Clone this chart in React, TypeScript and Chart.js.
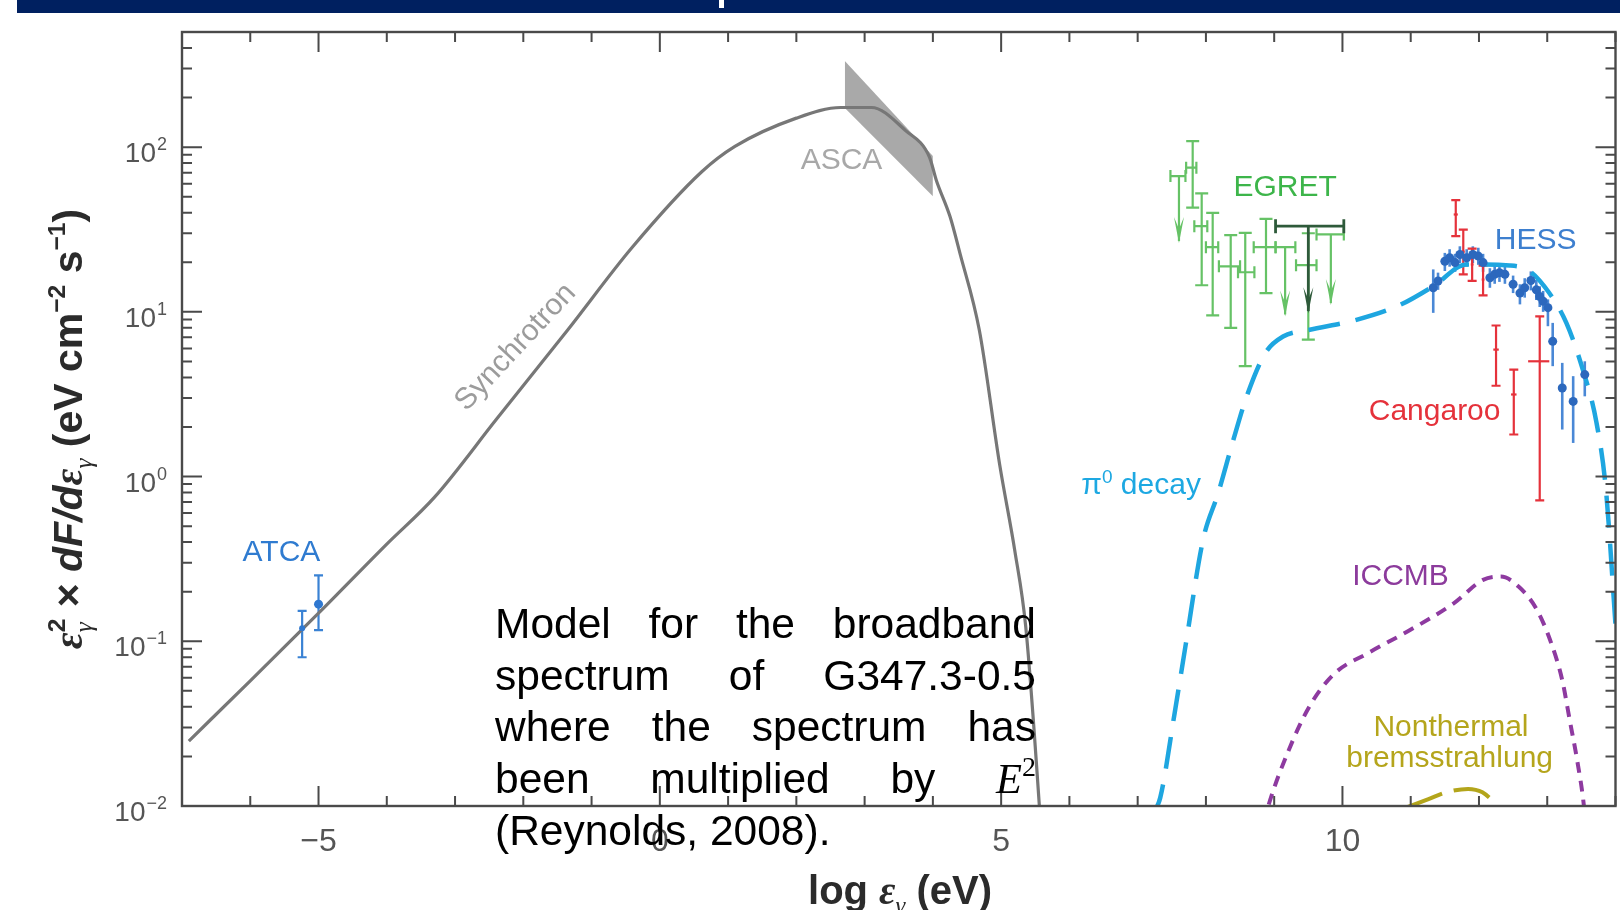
import React, { useEffect, useRef } from 'react';
import { Chart, registerables } from 'chart.js';

Chart.register(...registerables);

const SANS = '"Liberation Sans", Arial, Helvetica, sans-serif';
const SERIF = '"Liberation Serif", "DejaVu Serif", "Times New Roman", serif';

// ---- axes ----
const X_MIN = -7;
const X_MAX = 14;
const Y_MIN = 0.01;
const Y_MAX = 500;
const xTickValues = [-5, 0, 5, 10];
const xTickLabels = ['−5', '0', '5', '10'];
const yTickValues = [0.01, 0.1, 1, 10, 100];
const yTickExponents = ['−2', '−1', '0', '1', '2'];

// ---- model curves: log photon energy (eV) vs E^2 dF/dE (eV cm^-2 s^-1) ----
const synchLogE = [-6.9, -6.0, -5.0, -4.0, -3.3, -2.4, -1.35, -0.41, 0.61, 1.1, 2.0, 2.65, 3.1, 3.6, 3.95, 4.05, 4.25, 4.4, 4.68, 4.98, 5.2, 5.36, 5.56, 5.62];
const synchFlux = [0.0248, 0.0575, 0.148, 0.389, 0.75, 2.21, 7.76, 24.5, 70.6, 101, 150, 174, 174, 126, 87, 63, 38, 22.4, 7.76, 1.17, 0.355, 0.123, 0.01, 0.004];

const pionLogE = [7.22, 7.33, 7.54, 7.70, 7.96, 8.18, 8.40, 8.60, 8.87, 9.13, 9.50, 10.19, 10.84, 11.33, 11.82, 12.45, 12.74, 13.03, 13.28, 13.52, 13.72, 13.86, 14.0, 14.1];
const pionFlux = [0.0089, 0.0112, 0.0363, 0.0933, 0.417, 0.794, 1.66, 3.09, 5.62, 7.08, 7.76, 8.91, 11.0, 14.3, 19.4, 19.1, 17.7, 13.0, 8.57, 4.47, 2.14, 0.832, 0.126, 0.0316];

const iccmbLogE = [8.85, 8.92, 9.19, 9.51, 9.88, 10.36, 10.99, 11.63, 12.06, 12.32, 12.58, 12.85, 13.06, 13.22, 13.33, 13.44, 13.54, 13.58];
const iccmbFlux = [0.0079, 0.0102, 0.0207, 0.0398, 0.0635, 0.0841, 0.117, 0.170, 0.236, 0.247, 0.215, 0.155, 0.097, 0.058, 0.0331, 0.0188, 0.0098, 0.0063];

const bremsLogE = [10.94, 11.26, 11.52, 11.84, 12.05, 12.26];
const bremsFlux = [0.0098, 0.011, 0.0121, 0.0127, 0.0121, 0.0102];

// ASCA X-ray bow-tie
const ascaLogE = [2.71, 4.0];
const ascaUpper = [333, 88.2];
const ascaLower = [173, 50.4];

// ---- measurements ----
const atcaLogE = [-5.24, -5.0];
const atcaFlux = [0.12, 0.168];
const atcaLo = [0.08, 0.117];
const atcaHi = [0.153, 0.251];

const egretLogE = [7.806, 7.938, 8.099, 8.363, 8.576, 8.88, 9.5];
const egretFlux = [75.0, 33.1, 24.7, 18.9, 17.4, 24.7, 19.2];
const egretLo = [42.9, 14.5, 9.51, 8.0, 4.68, 13.0, 6.79];
const egretHi = [108.7, 52.4, 39.9, 29.2, 30.2, 36.7, 30.0];
const egretELo = [7.71, 7.83, 8.0, 8.19, 8.47, 8.7, 9.32];
const egretEHi = [7.86, 8.02, 8.18, 8.5, 8.71, 9.02, 9.62];

const egretUlLogE = [7.605, 9.16, 9.83];
const egretUlFlux = [66.7, 24.7, 29.5];
const egretUlTip = [26.9, 9.65, 11.3];
const egretUlELo = [7.48, 9.02, 9.62];
const egretUlEHi = [7.7, 9.31, 10.02];

const egretWideUlLogE = [9.5];
const egretWideUlFlux = [33.1];
const egretWideUlTip = [10.1];
const egretWideUlELo = [9.02];
const egretWideUlEHi = [10.02];

const hessLogE = [11.33, 11.4, 11.5, 11.57, 11.65, 11.72, 11.82, 11.91, 11.99, 12.06, 12.16, 12.23, 12.3, 12.38, 12.5, 12.6, 12.67, 12.76, 12.84, 12.89, 12.94, 13.01, 13.08, 13.22, 13.38, 13.55];
const hessFlux = [14.0, 15.4, 20.3, 21.3, 19.9, 22.3, 21.3, 22.3, 21.8, 19.9, 16.1, 16.9, 17.3, 16.9, 14.7, 13.0, 14.0, 15.5, 13.6, 12.4, 11.6, 10.6, 6.62, 3.45, 2.86, 4.16];
const hessLo = [9.86, 13.6, 17.7, 18.8, 17.5, 19.8, 18.8, 19.8, 19.3, 17.5, 14.0, 14.8, 15.2, 14.8, 13.0, 11.1, 12.2, 13.5, 11.8, 10.7, 10.0, 8.18, 4.68, 1.93, 1.6, 3.07];
const hessHi = [18.1, 17.3, 22.8, 24.0, 22.5, 25.0, 24.0, 25.0, 24.5, 22.5, 18.4, 19.2, 19.6, 19.2, 16.6, 14.7, 16.0, 17.6, 15.6, 14.3, 13.4, 11.9, 8.57, 4.9, 4.07, 5.01];

const cangLogE = [11.66, 11.77, 11.9, 12.06, 12.25, 12.51, 12.89];
const cangFlux = [39.0, 23.2, 19.4, 15.7, 5.9, 3.15, 5.01];
const cangLo = [28.8, 16.9, 15.4, 12.6, 3.56, 1.8, 0.716];
const cangHi = [47.7, 31.6, 24.2, 19.1, 8.26, 4.46, 9.4];
const cangELo = [11.63, 11.75, 11.88, 12.04, 12.21, 12.47, 12.72];
const cangEHi = [11.69, 11.79, 11.92, 12.08, 12.29, 12.55, 13.03];

// ---- labels placed in data coordinates ----
const annotations = [
  { text: 'ATCA', x: -5.543, y: 0.344, color: '#2f7bd0' },
  { text: 'ASCA', x: 2.661, y: 82.2, color: '#a8a8a8' },
  { text: 'EGRET', x: 9.16, y: 57.0, color: '#3db54a' },
  { text: 'HESS', x: 12.83, y: 27.0, color: '#3d7fcf' },
  { text: 'Cangaroo', x: 11.35, y: 2.49, color: '#e5323b' },
  { text: 'ICCMB', x: 10.85, y: 0.248, color: '#8c3b9c' },
  { text: 'Nonthermal', x: 11.59, y: 0.03, color: '#b5a51c' },
  { text: 'bremsstrahlung', x: 11.57, y: 0.0193, color: '#b5a51c' },
];
const pionLabel = { x: 7.05, y: 0.912, color: '#1da8e2' };
const synchLabel = { text: 'Synchrotron', x: -2.112, y: 6.1, color: '#9c9c9c', angle: -47 };

const captionLines = [
  'Model for the broadband',
  'spectrum of G347.3-0.5',
  'where the spectrum has',
  'been multiplied by',
  '(Reynolds, 2008).',
];

const zip = (xs: number[], ys: number[]) => xs.map((x, i) => ({ x, y: ys[i] }));

type Seg = { t: string; font: string; dy?: number; stack?: boolean };

function richWidth(ctx: CanvasRenderingContext2D, segs: Seg[]) {
  let w = 0;
  let pending = 0;
  for (const s of segs) {
    ctx.font = s.font;
    const sw = ctx.measureText(s.t).width;
    if (s.stack) {
      pending = Math.max(pending, sw);
      continue;
    }
    w += Math.max(pending, sw);
    pending = 0;
  }
  return w + pending;
}

function drawRich(ctx: CanvasRenderingContext2D, segs: Seg[], x: number, y: number) {
  let cx = x;
  let pending = 0;
  for (const s of segs) {
    ctx.font = s.font;
    const sw = ctx.measureText(s.t).width;
    ctx.fillText(s.t, cx, y + (s.dy || 0));
    if (s.stack) {
      pending = Math.max(pending, sw);
      continue;
    }
    cx += Math.max(pending, sw);
    pending = 0;
  }
}

const errorBarPlugin = {
  id: 'errorBars',
  beforeDatasetsDraw(chart: any) {
    const { ctx } = chart;
    const xs = chart.scales.x;
    const ys = chart.scales.y;
    chart.data.datasets.forEach((ds: any) => {
      const e = ds.err;
      if (!e) return;
      ctx.save();
      ctx.strokeStyle = e.color;
      ctx.fillStyle = e.color;
      ctx.lineWidth = e.width;
      for (const p of ds.data) {
        const px = xs.getPixelForValue(p.x);
        const py = ys.getPixelForValue(p.y);
        if (p.lo !== undefined) {
          const t = ys.getPixelForValue(p.hi);
          const b = ys.getPixelForValue(p.lo);
          ctx.beginPath();
          ctx.moveTo(px, t);
          ctx.lineTo(px, b);
          if (e.cap) {
            ctx.moveTo(px - e.cap / 2, t);
            ctx.lineTo(px + e.cap / 2, t);
            ctx.moveTo(px - e.cap / 2, b);
            ctx.lineTo(px + e.cap / 2, b);
          }
          ctx.stroke();
        }
        if (p.xlo !== undefined) {
          const l = xs.getPixelForValue(p.xlo);
          const r = xs.getPixelForValue(p.xhi);
          ctx.beginPath();
          ctx.moveTo(l, py);
          ctx.lineTo(r, py);
          if (e.xcap) {
            ctx.moveTo(l, py - e.xcap / 2);
            ctx.lineTo(l, py + e.xcap / 2);
            ctx.moveTo(r, py - e.xcap / 2);
            ctx.lineTo(r, py + e.xcap / 2);
          }
          ctx.stroke();
        }
        if (p.tip !== undefined) {
          const tp = ys.getPixelForValue(p.tip);
          ctx.beginPath();
          ctx.moveTo(px, py);
          ctx.lineTo(px, tp);
          ctx.stroke();
          ctx.beginPath();
          ctx.moveTo(px, tp + 2);
          ctx.lineTo(px - e.head, tp - 24);
          ctx.lineTo(px, tp - 12);
          ctx.lineTo(px + e.head, tp - 24);
          ctx.closePath();
          ctx.fill();
        }
      }
      ctx.restore();
    });
  },
};

const framePlugin = {
  id: 'frame',
  afterDraw(chart: any) {
    const { ctx, chartArea: a } = chart;
    const xs = chart.scales.x;
    const ys = chart.scales.y;
    ctx.save();

    // frame
    ctx.strokeStyle = '#4a4a4a';
    ctx.lineWidth = 2.4;
    ctx.strokeRect(a.left, a.top, a.right - a.left, a.bottom - a.top);

    // x ticks, inward on top and bottom
    ctx.lineWidth = 2;
    ctx.beginPath();
    for (let v = Math.ceil(X_MIN); v <= X_MAX; v++) {
      const px = xs.getPixelForValue(v);
      const len = v % 5 === 0 ? 20 : 10;
      ctx.moveTo(px, a.bottom);
      ctx.lineTo(px, a.bottom - len);
      ctx.moveTo(px, a.top);
      ctx.lineTo(px, a.top + len);
    }
    // y ticks, inward on left and right
    for (let d = -2; d <= 2; d++) {
      for (let m = 1; m <= 9; m++) {
        const v = m * Math.pow(10, d);
        if (v > Y_MAX) break;
        const py = ys.getPixelForValue(v);
        const len = m === 1 ? 20 : 10;
        ctx.moveTo(a.left, py);
        ctx.lineTo(a.left + len, py);
        ctx.moveTo(a.right, py);
        ctx.lineTo(a.right - len, py);
      }
    }
    ctx.stroke();

    // tick labels
    ctx.fillStyle = '#555';
    ctx.textAlign = 'center';
    ctx.textBaseline = 'alphabetic';
    ctx.font = `32px ${SANS}`;
    xTickValues.forEach((v, i) => {
      ctx.fillText(xTickLabels[i], xs.getPixelForValue(v), a.bottom + 45);
    });
    ctx.textAlign = 'left';
    yTickValues.forEach((v, i) => {
      const py = ys.getPixelForValue(v);
      ctx.font = `18px ${SANS}`;
      const sw = ctx.measureText(yTickExponents[i]).width;
      ctx.font = `28px ${SANS}`;
      const bw = ctx.measureText('10').width;
      const right = a.left - 15;
      ctx.fillText('10', right - sw - bw - 1, py + 15);
      ctx.font = `18px ${SANS}`;
      ctx.fillText(yTickExponents[i], right - sw, py + 3);
    });

    // axis titles
    ctx.fillStyle = '#2b2b2b';
    const F = 41;
    const ySegs: Seg[] = [
      { t: 'ε', font: `italic bold ${F}px ${SERIF}` },
      { t: '2', font: `bold ${F * 0.6}px ${SANS}`, dy: -F * 0.42, stack: true },
      { t: 'γ', font: `italic ${F * 0.62}px ${SERIF}`, dy: F * 0.25 },
      { t: ' × ', font: `bold ${F}px ${SANS}` },
      { t: 'dF/d', font: `italic bold ${F}px ${SANS}` },
      { t: 'ε', font: `italic bold ${F}px ${SERIF}` },
      { t: 'γ', font: `italic ${F * 0.62}px ${SERIF}`, dy: F * 0.25 },
      { t: ' (eV cm', font: `bold ${F}px ${SANS}` },
      { t: '−2', font: `bold ${F * 0.6}px ${SANS}`, dy: -F * 0.42 },
      { t: ' s', font: `bold ${F}px ${SANS}` },
      { t: '−1', font: `bold ${F * 0.6}px ${SANS}`, dy: -F * 0.42 },
      { t: ')', font: `bold ${F}px ${SANS}` },
    ];
    const yw = richWidth(ctx, ySegs);
    ctx.save();
    ctx.translate(67, 429);
    ctx.rotate(-Math.PI / 2);
    drawRich(ctx, ySegs, -yw / 2, F * 0.36);
    ctx.restore();

    const G = 40;
    const xSegs: Seg[] = [
      { t: 'log ', font: `bold ${G}px ${SANS}` },
      { t: 'ε', font: `italic bold ${G}px ${SERIF}` },
      { t: 'γ', font: `italic ${G * 0.62}px ${SERIF}`, dy: G * 0.25 },
      { t: ' (eV)', font: `bold ${G}px ${SANS}` },
    ];
    const xw = richWidth(ctx, xSegs);
    drawRich(ctx, xSegs, 900 - xw / 2, 904);

    // curve and instrument labels
    ctx.textAlign = 'center';
    ctx.textBaseline = 'middle';
    ctx.font = `30px ${SANS}`;
    annotations.forEach((lb) => {
      ctx.fillStyle = lb.color;
      ctx.fillText(lb.text, xs.getPixelForValue(lb.x), ys.getPixelForValue(lb.y));
    });

    ctx.save();
    ctx.fillStyle = synchLabel.color;
    ctx.font = `30px ${SANS}`;
    ctx.translate(xs.getPixelForValue(synchLabel.x), ys.getPixelForValue(synchLabel.y));
    ctx.rotate((synchLabel.angle * Math.PI) / 180);
    ctx.fillText(synchLabel.text, 0, 0);
    ctx.restore();

    ctx.fillStyle = pionLabel.color;
    ctx.textAlign = 'left';
    ctx.textBaseline = 'alphabetic';
    const pSegs: Seg[] = [
      { t: 'π', font: `30px ${SANS}` },
      { t: '0', font: `19px ${SANS}`, dy: -11 },
      { t: ' decay', font: `30px ${SANS}` },
    ];
    const pw = richWidth(ctx, pSegs);
    drawRich(ctx, pSegs, xs.getPixelForValue(pionLabel.x) - pw / 2, ys.getPixelForValue(pionLabel.y) + 11);

    ctx.restore();
  },
};

export default function App() {
  const canvasRef = useRef<HTMLCanvasElement | null>(null);

  useEffect(() => {
    const canvas = canvasRef.current;
    if (!canvas) return;

    const line = (data: any[], color: string, width: number, dash: number[], order: number) => ({
      data,
      showLine: true,
      borderColor: color,
      borderWidth: width,
      borderDash: dash,
      pointRadius: 0,
      cubicInterpolationMode: 'monotone',
      fill: false,
      order,
    });

    const datasets: any[] = [
      {
        data: atcaLogE.map((x, i) => ({ x, y: atcaFlux[i], lo: atcaLo[i], hi: atcaHi[i] })),
        pointRadius: [3, 4.5],
        pointBackgroundColor: '#2f78d0',
        pointBorderWidth: 0,
        err: { color: '#3a82d4', width: 2.2, cap: 9 },
        order: 0,
      },
      {
        data: hessLogE.map((x, i) => ({ x, y: hessFlux[i], lo: hessLo[i], hi: hessHi[i] })),
        pointRadius: 4.5,
        pointBackgroundColor: '#2c68bd',
        pointBorderWidth: 0,
        err: { color: '#4a88d6', width: 2.6, cap: 0 },
        order: 1,
      },
      {
        data: cangLogE.map((x, i) => ({ x, y: cangFlux[i], lo: cangLo[i], hi: cangHi[i], xlo: cangELo[i], xhi: cangEHi[i] })),
        pointRadius: 0,
        err: { color: '#e5323b', width: 2.2, cap: 9, xcap: 0 },
        order: 2,
      },
      {
        data: egretLogE.map((x, i) => ({ x, y: egretFlux[i], lo: egretLo[i], hi: egretHi[i], xlo: egretELo[i], xhi: egretEHi[i] })),
        pointRadius: 0,
        err: { color: '#66c266', width: 2.2, cap: 13, xcap: 12 },
        order: 3,
      },
      {
        data: egretUlLogE.map((x, i) => ({ x, y: egretUlFlux[i], tip: egretUlTip[i], xlo: egretUlELo[i], xhi: egretUlEHi[i] })),
        pointRadius: 0,
        err: { color: '#66c266', width: 2.2, xcap: 12, head: 5 },
        order: 4,
      },
      {
        data: egretWideUlLogE.map((x, i) => ({ x, y: egretWideUlFlux[i], tip: egretWideUlTip[i], xlo: egretWideUlELo[i], xhi: egretWideUlEHi[i] })),
        pointRadius: 0,
        err: { color: '#2e5a3a', width: 2.8, xcap: 14, head: 5 },
        order: 5,
      },
      line(zip(synchLogE, synchFlux), '#777777', 3.2, [], 6),
      line(zip(pionLogE, pionFlux), '#1ea6e0', 4.5, [32, 16], 7),
      line(zip(iccmbLogE, iccmbFlux), '#8e3aa0', 4, [11, 8], 8),
      line(zip(bremsLogE, bremsFlux), '#b3a51b', 4, [38, 12], 9),
      {
        data: zip(ascaLogE, ascaUpper),
        showLine: true,
        borderWidth: 0,
        borderColor: 'rgba(0,0,0,0)',
        backgroundColor: '#a9a9a9',
        pointRadius: 0,
        fill: '+1',
        order: 10,
      },
      {
        data: zip(ascaLogE, ascaLower),
        showLine: true,
        borderWidth: 0,
        borderColor: 'rgba(0,0,0,0)',
        pointRadius: 0,
        fill: false,
        order: 11,
      },
    ];

    const chart = new Chart(canvas, {
      type: 'scatter',
      data: { datasets },
      options: {
        animation: false,
        responsive: false,
        maintainAspectRatio: false,
        layout: { padding: { left: 182, top: 32, right: 0, bottom: 104 } },
        scales: {
          x: { type: 'linear', min: X_MIN, max: X_MAX, display: false },
          y: { type: 'logarithmic', min: Y_MIN, max: Y_MAX, display: false },
        },
        plugins: {
          legend: { display: false },
          tooltip: { enabled: false },
        },
      },
      plugins: [errorBarPlugin, framePlugin],
    } as any);

    return () => chart.destroy();
  }, []);

  return (
    <div style={{ position: 'absolute', left: 0, top: 0, width: 1620, height: 910, background: '#fff', overflow: 'hidden' }}>
      <div style={{ position: 'absolute', left: 17, top: 0, width: 1603, height: 13, background: '#002060' }} />
      <div style={{ position: 'absolute', left: 719, top: 0, width: 5, height: 8, background: '#fff' }} />
      <canvas
        ref={canvasRef}
        width={1620}
        height={910}
        style={{ position: 'absolute', left: 0, top: 0, width: 1620, height: 910, filter: 'blur(0.45px)' }}
      />
      <div
        style={{
          position: 'absolute',
          left: 495,
          top: 598,
          width: 541,
          fontFamily: SANS,
          fontSize: 42.5,
          lineHeight: '51.7px',
          color: '#000',
        }}
      >
        {captionLines.map((ln, i) => {
          const last = i === captionLines.length - 1;
          return (
            <div key={i} style={{ textAlign: last ? 'left' : 'justify', textAlignLast: last ? 'left' : 'justify' } as any}>
              {ln}
              {i === 3 ? (
                <>
                  {' '}
                  <span style={{ whiteSpace: 'nowrap' }}>
                    <span style={{ fontFamily: SERIF, fontStyle: 'italic' }}>E</span>
                    <span style={{ fontFamily: SERIF, fontSize: 28, position: 'relative', top: -17, lineHeight: 0 }}>2</span>
                  </span>
                </>
              ) : null}
            </div>
          );
        })}
      </div>
    </div>
  );
}
